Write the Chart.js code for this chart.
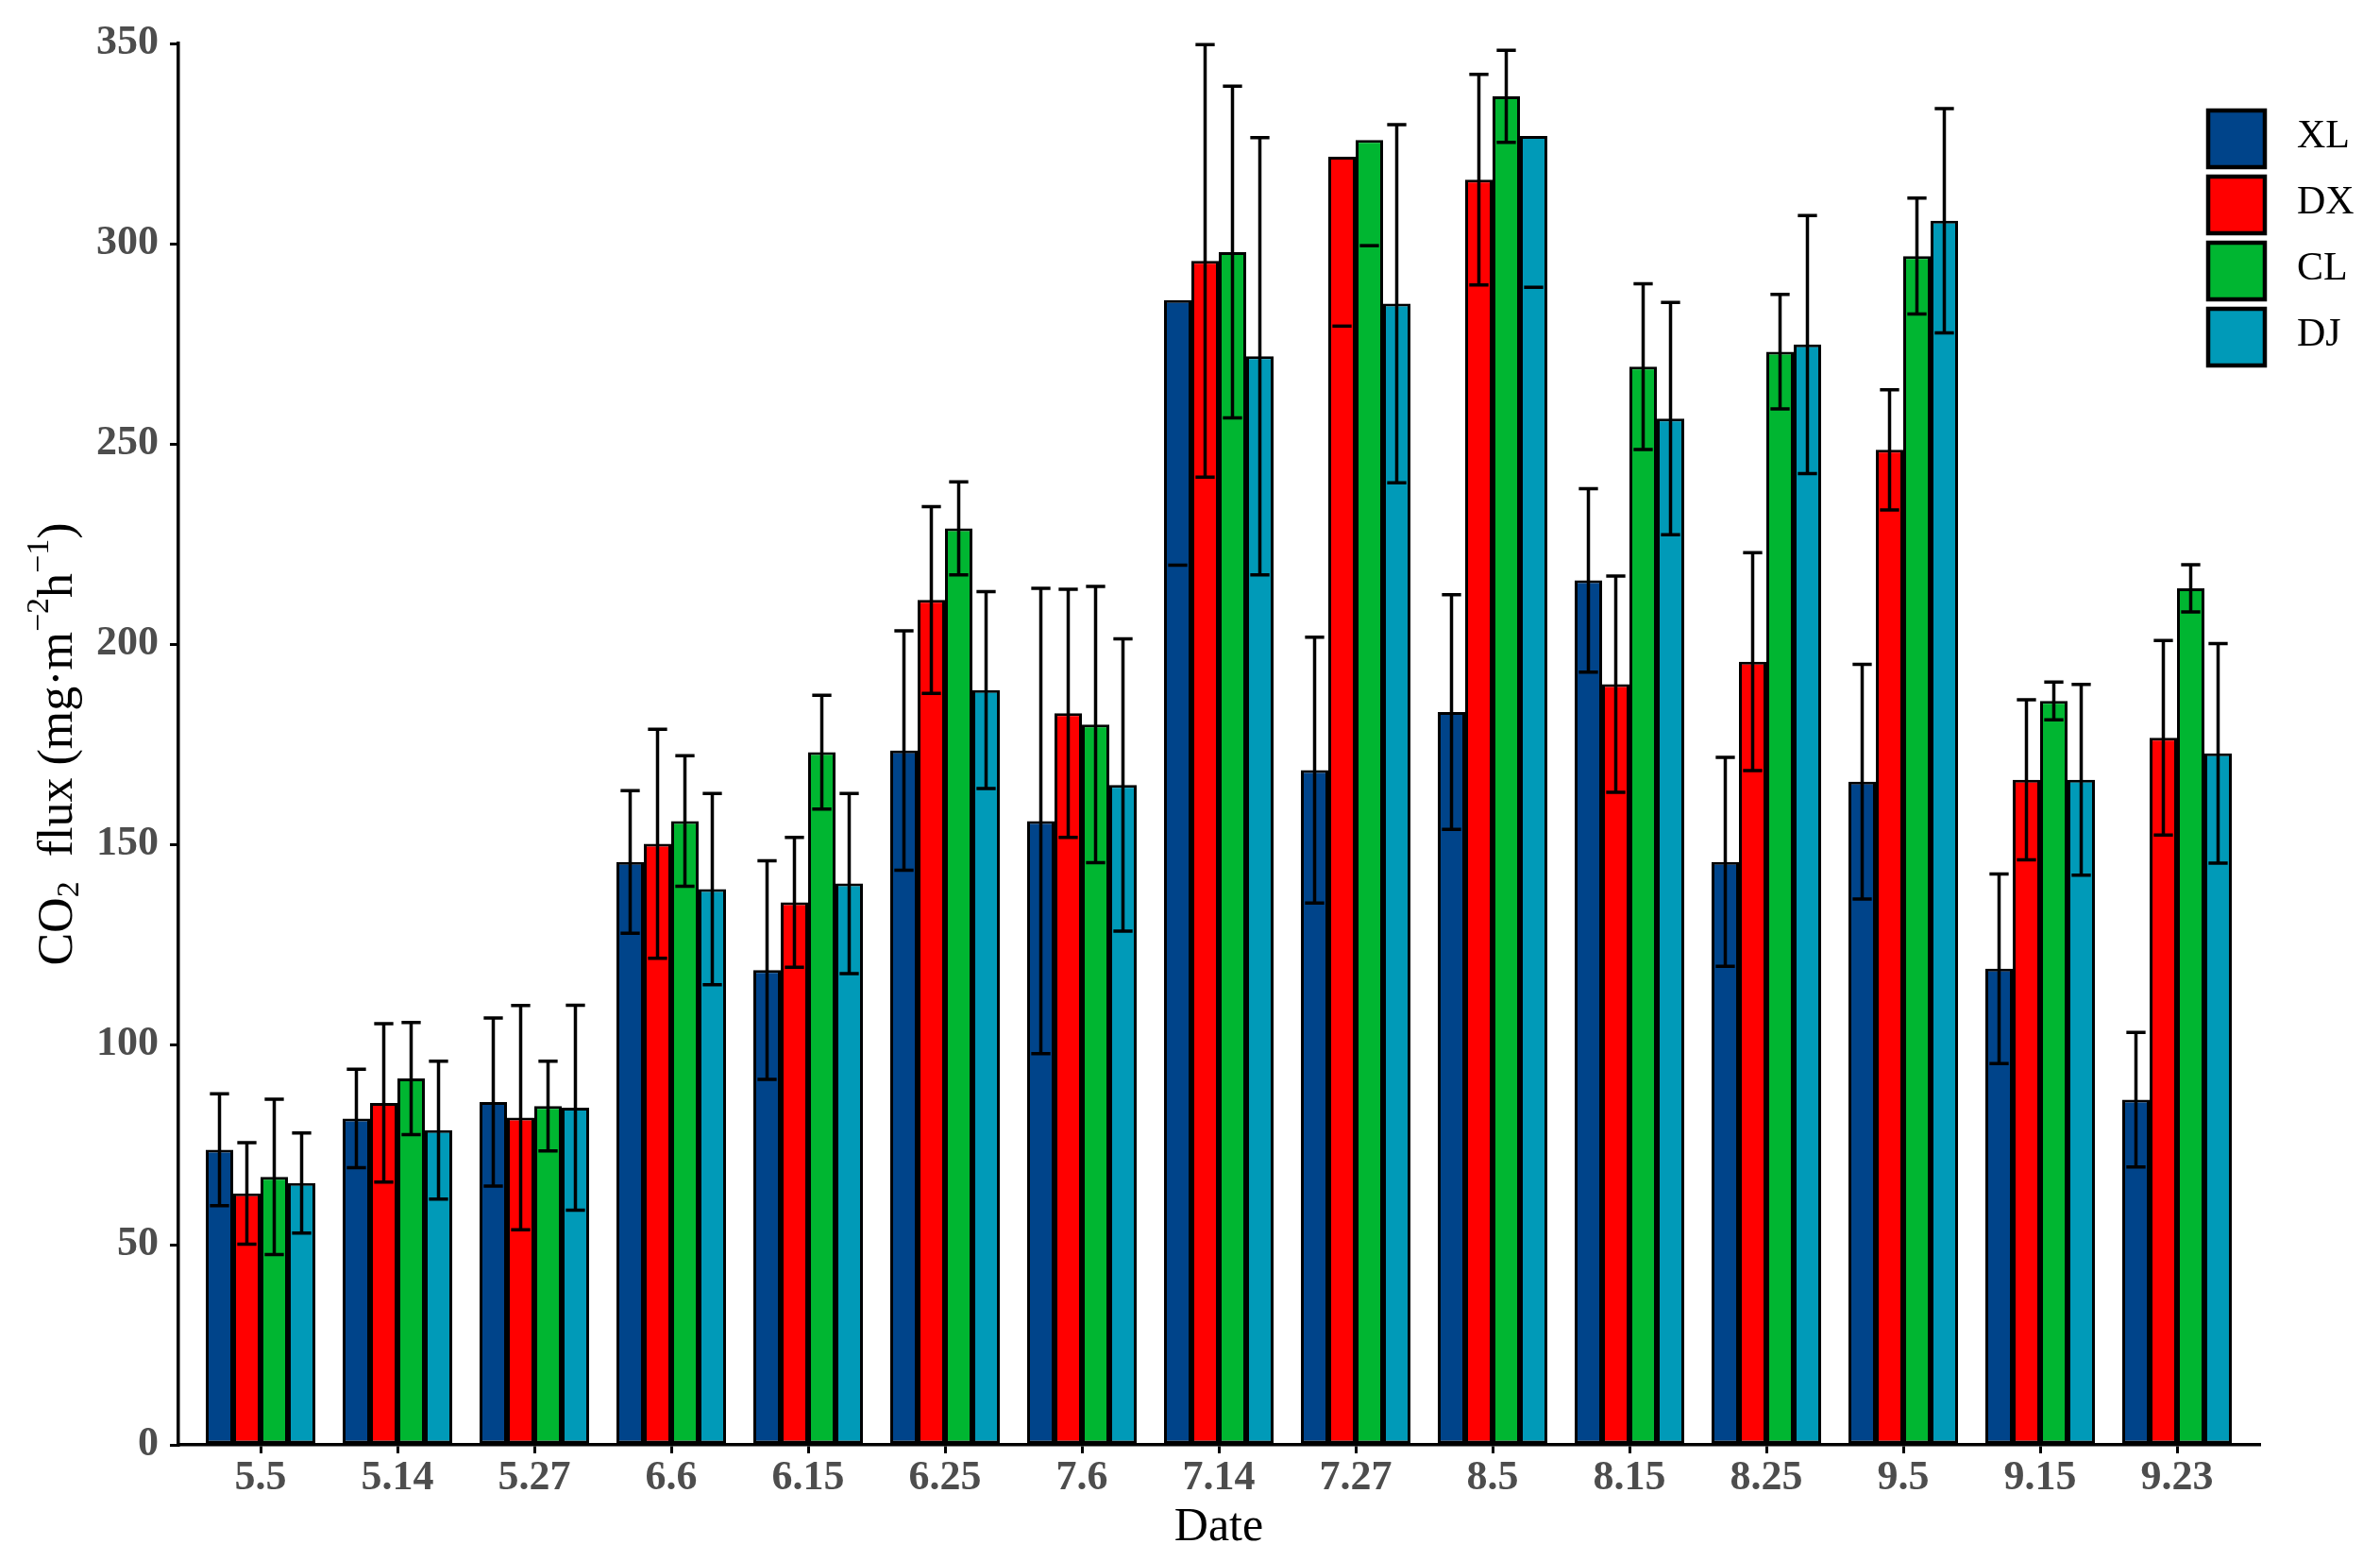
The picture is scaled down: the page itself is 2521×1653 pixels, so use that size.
<!DOCTYPE html>
<html>
<head>
<meta charset="utf-8">
<title>CO2 flux</title>
<script src="https://cdn.jsdelivr.net/npm/chart.js@4.4.1/dist/chart.umd.min.js"></script>
<style>
    html, body { margin: 0; padding: 0; background: #ffffff; }
    #wrap { width: 2521px; height: 1653px; position: relative; }
</style>
</head>
<body>
<div id="wrap"><canvas id="fluxChart"></canvas></div>
<script>
// CO2 flux by date and site
var dates = ['5.5', '5.14', '5.27', '6.6', '6.15', '6.25', '7.6', '7.14', '7.27', '8.5', '8.15', '8.25', '9.5', '9.15', '9.23'];
var siteNames = ['XL', 'DX', 'CL', 'DJ'];
var yTicks = [0, 50, 100, 150, 200, 250, 300, 350];

var xlMean = [73.7, 81.5, 85.6, 145.6, 118.6, 173.4, 155.8, 285.9, 168.5, 183.0, 215.9, 145.6, 165.6, 118.9, 86.2];
var xlErr = [14.0, 12.3, 21.0, 17.8, 27.3, 29.9, 58.1, 66.2, 33.2, 29.3, 22.9, 26.1, 29.3, 23.7, 16.8];
var dxMean = [62.8, 85.4, 81.7, 150.1, 135.5, 211.0, 182.7, 295.7, 321.7, 316.0, 190.0, 195.6, 248.5, 166.1, 176.6];
var dxErr = [12.7, 19.8, 28.0, 28.6, 16.2, 23.3, 31.0, 54.0, 42.3, 26.3, 27.0, 27.2, 15.0, 20.0, 24.3];
var clMean = [66.9, 91.5, 84.6, 155.8, 173.0, 228.9, 179.9, 297.9, 325.9, 336.8, 269.3, 273.0, 296.9, 185.8, 213.9];
var clErr = [19.4, 14.0, 11.2, 16.3, 14.2, 11.6, 34.5, 41.4, 26.4, 11.5, 20.7, 14.3, 14.5, 4.7, 5.9];
var djMean = [65.4, 78.6, 84.2, 138.8, 140.2, 188.5, 164.8, 271.9, 285.0, 326.9, 256.3, 274.8, 305.7, 166.1, 172.7];
var djErr = [12.5, 17.2, 25.6, 23.9, 22.5, 24.6, 36.5, 54.6, 44.7, 37.8, 29.0, 32.2, 28.0, 23.8, 27.4];

var siteColors = ['#00448A', '#FF0000', '#00B631', '#009AB8'];
var means = [xlMean, dxMean, clMean, djMean];
var errs = [xlErr, dxErr, clErr, djErr];
var yMax = 350;

function points(vals) {
    return vals.map(function(v, i) { return { x: i + 1, y: v }; });
}

// ggplot style error bars: when the top goes past the axis limit only the lower cap is left
var errorBars = {
    id: 'errorBars',
    afterDatasetsDraw: function(chart) {
        var ctx = chart.ctx;
        var yScale = chart.scales.y;
        ctx.save();
        ctx.strokeStyle = '#000000';
        ctx.lineWidth = 3.5;
        chart.data.datasets.forEach(function(ds, di) {
            var meta = chart.getDatasetMeta(di);
            meta.data.forEach(function(bar, j) {
                var m = means[di][j];
                var e = errs[di][j];
                var half = bar.width * 0.35;
                var yLow = yScale.getPixelForValue(m - e);
                ctx.beginPath();
                ctx.moveTo(bar.x - half, yLow);
                ctx.lineTo(bar.x + half, yLow);
                if (m + e <= yMax) {
                    var yHigh = yScale.getPixelForValue(m + e);
                    ctx.moveTo(bar.x, yLow);
                    ctx.lineTo(bar.x, yHigh);
                    ctx.moveTo(bar.x - half, yHigh);
                    ctx.lineTo(bar.x + half, yHigh);
                }
                ctx.stroke();
            });
        });
        ctx.restore();
    }
};

var axisTitles = {
    id: 'axisTitles',
    afterDraw: function(chart) {
        var ctx = chart.ctx;
        var area = chart.chartArea;
        ctx.save();
        ctx.fillStyle = '#000000';

        ctx.font = '50px "Liberation Serif"';
        ctx.textAlign = 'center';
        ctx.textBaseline = 'middle';
        ctx.fillText('Date', (area.left + area.right) / 2, 1618);

        // y title with sub/superscripts
        var big = '52px "Liberation Serif"';
        var small = '34px "Liberation Serif"';
        var parts = [
            { t: 'CO', f: big, dy: 0 },
            { t: '2', f: small, dy: 12 },
            { t: '  flux (mg\u00B7m', f: big, dy: 0 },
            { t: '\u22122', f: small, dy: -20 },
            { t: 'h', f: big, dy: 0 },
            { t: '\u22121', f: small, dy: -20 },
            { t: ')', f: big, dy: 0 }
        ];
        var total = 0;
        parts.forEach(function(p) {
            ctx.font = p.f;
            p.w = ctx.measureText(p.t).width;
            total += p.w;
        });
        ctx.translate(62, (area.top + area.bottom) / 2);
        ctx.rotate(-Math.PI / 2);
        ctx.textAlign = 'left';
        ctx.textBaseline = 'middle';
        var x = -total / 2;
        parts.forEach(function(p) {
            ctx.font = p.f;
            ctx.fillText(p.t, x, p.dy);
            x += p.w;
        });
        ctx.restore();
    }
};

var boxLegend = {
    id: 'boxLegend',
    afterDraw: function(chart) {
        var ctx = chart.ctx;
        ctx.save();
        chart.data.datasets.forEach(function(ds, i) {
            var top = 115 + i * 70;
            ctx.fillStyle = ds.backgroundColor;
            ctx.fillRect(2337, top, 64, 64);
            ctx.strokeStyle = '#000000';
            ctx.lineWidth = 4.5;
            ctx.strokeRect(2339, top + 2, 60, 60);
            ctx.fillStyle = '#000000';
            ctx.font = '42px "Liberation Serif"';
            ctx.textAlign = 'left';
            ctx.textBaseline = 'middle';
            ctx.fillText(ds.label, 2433, top + 30);
        });
        ctx.restore();
    }
};

var ctx = document.getElementById('fluxChart');
new Chart(ctx, {
    type: 'bar',
    data: {
        datasets: siteNames.map(function(name, i) {
            return {
                label: name,
                data: points(means[i]),
                backgroundColor: siteColors[i],
                borderColor: '#000000',
                borderWidth: 3,
                borderSkipped: false,
                categoryPercentage: 0.8,
                barPercentage: 1.0
            };
        })
    },
    options: {
        responsive: true,
        maintainAspectRatio: false,
        animation: false,
        layout: {
            padding: { top: 46, right: 128, left: 0, bottom: 0 }
        },
        plugins: {
            legend: { display: false },
            tooltip: { enabled: false }
        },
        scales: {
            x: {
                type: 'linear',
                min: 0.4,
                max: 15.6,
                offset: false,
                afterFit: function(scale) { scale.height = 123; },
                afterBuildTicks: function(scale) {
                    scale.ticks = dates.map(function(d, i) { return { value: i + 1 }; });
                },
                ticks: {
                    stepSize: 1,
                    autoSkip: false,
                    maxRotation: 0,
                    maxTicksLimit: 20,
                    padding: 0,
                    color: '#4D4D4D',
                    font: { family: 'Liberation Serif', size: 44, weight: 'bold' },
                    callback: function(v) { return dates[v - 1]; }
                },
                grid: {
                    display: true,
                    offset: false,
                    drawOnChartArea: false,
                    drawTicks: true,
                    tickLength: 9,
                    color: '#000000',
                    lineWidth: 3
                },
                border: { display: true, color: '#000000', width: 3.5 }
            },
            y: {
                min: 0,
                max: yMax,
                afterFit: function(scale) { scale.width = 189; },
                afterBuildTicks: function(scale) {
                    scale.ticks = yTicks.map(function(v) { return { value: v }; });
                },
                ticks: {
                    padding: 12,
                    color: '#4D4D4D',
                    font: { family: 'Liberation Serif', size: 44, weight: 'bold' }
                },
                grid: {
                    display: true,
                    drawOnChartArea: false,
                    drawTicks: true,
                    tickLength: 9,
                    color: '#000000',
                    lineWidth: 3
                },
                border: { display: true, color: '#000000', width: 3.5 }
            }
        }
    },
    plugins: [errorBars, axisTitles, boxLegend]
});
</script>
</body>
</html>
